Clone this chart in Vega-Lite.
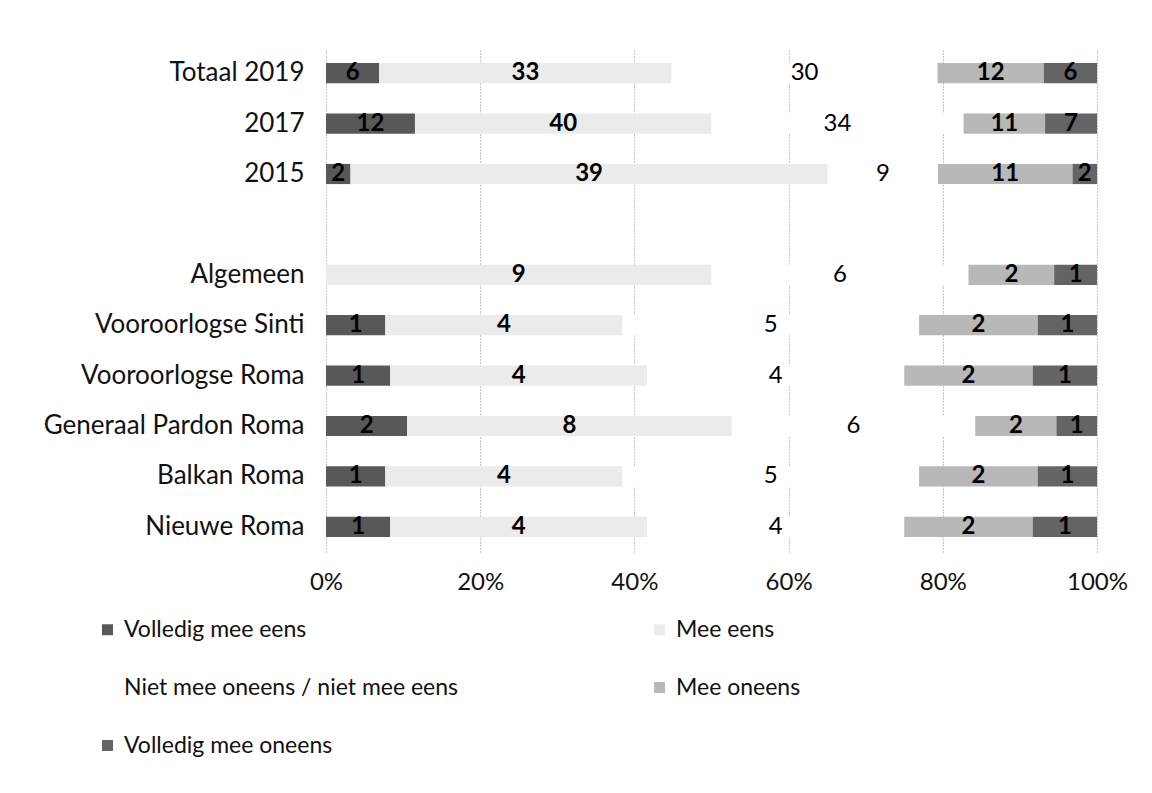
{
  "$schema": "https://vega.github.io/schema/vega-lite/v6.json",
  "width": 771,
  "height": 504,
  "autosize": {"type": "none"},
  "padding": {"left": 326, "top": 48, "right": 55, "bottom": 241},
  "background": "white",
  "config": {
    "view": {"stroke": null},
    "font": "Lato",
    "axis": {"labelFont": "Lato", "labelFontSize": 24, "labelColor": "#111"},
    "legend": {"labelFont": "Lato", "labelFontSize": 23, "labelColor": "#111"}
  },
  "data": {
    "values": [
      {"groep": "Totaal 2019", "antwoord": "Volledig mee eens", "k": 1, "n": 6},
      {"groep": "Totaal 2019", "antwoord": "Mee eens", "k": 2, "n": 33},
      {"groep": "Totaal 2019", "antwoord": "Niet mee oneens / niet mee eens", "k": 3, "n": 30},
      {"groep": "Totaal 2019", "antwoord": "Mee oneens", "k": 4, "n": 12},
      {"groep": "Totaal 2019", "antwoord": "Volledig mee oneens", "k": 5, "n": 6},
      {"groep": "2017", "antwoord": "Volledig mee eens", "k": 1, "n": 12},
      {"groep": "2017", "antwoord": "Mee eens", "k": 2, "n": 40},
      {"groep": "2017", "antwoord": "Niet mee oneens / niet mee eens", "k": 3, "n": 34},
      {"groep": "2017", "antwoord": "Mee oneens", "k": 4, "n": 11},
      {"groep": "2017", "antwoord": "Volledig mee oneens", "k": 5, "n": 7},
      {"groep": "2015", "antwoord": "Volledig mee eens", "k": 1, "n": 2},
      {"groep": "2015", "antwoord": "Mee eens", "k": 2, "n": 39},
      {"groep": "2015", "antwoord": "Niet mee oneens / niet mee eens", "k": 3, "n": 9},
      {"groep": "2015", "antwoord": "Mee oneens", "k": 4, "n": 11},
      {"groep": "2015", "antwoord": "Volledig mee oneens", "k": 5, "n": 2},
      {"groep": "Algemeen", "antwoord": "Mee eens", "k": 2, "n": 9},
      {"groep": "Algemeen", "antwoord": "Niet mee oneens / niet mee eens", "k": 3, "n": 6},
      {"groep": "Algemeen", "antwoord": "Mee oneens", "k": 4, "n": 2},
      {"groep": "Algemeen", "antwoord": "Volledig mee oneens", "k": 5, "n": 1},
      {"groep": "Vooroorlogse Sinti", "antwoord": "Volledig mee eens", "k": 1, "n": 1},
      {"groep": "Vooroorlogse Sinti", "antwoord": "Mee eens", "k": 2, "n": 4},
      {"groep": "Vooroorlogse Sinti", "antwoord": "Niet mee oneens / niet mee eens", "k": 3, "n": 5},
      {"groep": "Vooroorlogse Sinti", "antwoord": "Mee oneens", "k": 4, "n": 2},
      {"groep": "Vooroorlogse Sinti", "antwoord": "Volledig mee oneens", "k": 5, "n": 1},
      {"groep": "Vooroorlogse Roma", "antwoord": "Volledig mee eens", "k": 1, "n": 1},
      {"groep": "Vooroorlogse Roma", "antwoord": "Mee eens", "k": 2, "n": 4},
      {"groep": "Vooroorlogse Roma", "antwoord": "Niet mee oneens / niet mee eens", "k": 3, "n": 4},
      {"groep": "Vooroorlogse Roma", "antwoord": "Mee oneens", "k": 4, "n": 2},
      {"groep": "Vooroorlogse Roma", "antwoord": "Volledig mee oneens", "k": 5, "n": 1},
      {"groep": "Generaal Pardon Roma", "antwoord": "Volledig mee eens", "k": 1, "n": 2},
      {"groep": "Generaal Pardon Roma", "antwoord": "Mee eens", "k": 2, "n": 8},
      {"groep": "Generaal Pardon Roma", "antwoord": "Niet mee oneens / niet mee eens", "k": 3, "n": 6},
      {"groep": "Generaal Pardon Roma", "antwoord": "Mee oneens", "k": 4, "n": 2},
      {"groep": "Generaal Pardon Roma", "antwoord": "Volledig mee oneens", "k": 5, "n": 1},
      {"groep": "Balkan Roma", "antwoord": "Volledig mee eens", "k": 1, "n": 1},
      {"groep": "Balkan Roma", "antwoord": "Mee eens", "k": 2, "n": 4},
      {"groep": "Balkan Roma", "antwoord": "Niet mee oneens / niet mee eens", "k": 3, "n": 5},
      {"groep": "Balkan Roma", "antwoord": "Mee oneens", "k": 4, "n": 2},
      {"groep": "Balkan Roma", "antwoord": "Volledig mee oneens", "k": 5, "n": 1},
      {"groep": "Nieuwe Roma", "antwoord": "Volledig mee eens", "k": 1, "n": 1},
      {"groep": "Nieuwe Roma", "antwoord": "Mee eens", "k": 2, "n": 4},
      {"groep": "Nieuwe Roma", "antwoord": "Niet mee oneens / niet mee eens", "k": 3, "n": 4},
      {"groep": "Nieuwe Roma", "antwoord": "Mee oneens", "k": 4, "n": 2},
      {"groep": "Nieuwe Roma", "antwoord": "Volledig mee oneens", "k": 5, "n": 1}
    ]
  },
  "encoding": {
    "y": {
      "field": "groep",
      "type": "nominal",
      "title": null,
      "scale": {
        "domain": ["Totaal 2019", "2017", "2015", " ", "Algemeen", "Vooroorlogse Sinti", "Vooroorlogse Roma", "Generaal Pardon Roma", "Balkan Roma", "Nieuwe Roma"],
        "paddingInner": 0.6,
        "paddingOuter": 0.3
      },
      "axis": {"domain": false, "ticks": false, "labelPadding": 22, "grid": false, "labelLimit": 400, "labelFontSize": 26}
    },
    "x": {
      "field": "n",
      "type": "quantitative",
      "stack": "normalize",
      "title": null,
      "scale": {"domain": [0, 1]},
      "axis": {
        "format": ".0%",
        "values": [0, 0.2, 0.4, 0.6, 0.8, 1],
        "domain": false,
        "ticks": false,
        "labelPadding": 18,
        "labelFlush": false,
        "grid": true,
        "gridColor": "#888",
        "gridDash": [1, 2],
        "gridWidth": 1
      }
    },
    "order": {"field": "k", "type": "quantitative"}
  },
  "layer": [
    {
      "mark": {"type": "bar"},
      "encoding": {
        "color": {
          "field": "antwoord",
          "type": "nominal",
          "scale": {
            "domain": ["Volledig mee eens", "Mee eens", "Niet mee oneens / niet mee eens", "Mee oneens", "Volledig mee oneens"],
            "range": ["#585858", "#ebebeb", "#ffffff", "#b8b8b8", "#646464"]
          },
          "legend": {
            "title": null,
            "orient": "none",
            "direction": "horizontal",
            "legendX": -230,
            "legendY": 570,
            "columns": 2,
            "columnPadding": 189,
            "rowPadding": 34,
            "symbolType": "square",
            "symbolSize": 120,
            "symbolStrokeWidth": 0,
            "labelOffset": 5,
            "labelLimit": 500
          }
        }
      }
    },
    {
      "mark": {
        "type": "text",
        "fontSize": 24,
        "font": "Lato",
        "fontWeight": {"expr": "datum.k === 3 ? 'normal' : 'bold'"},
        "color": "#000"
      },
      "encoding": {
        "x": {"field": "n", "type": "quantitative", "stack": "normalize", "bandPosition": 0.5},
        "text": {"field": "n", "type": "quantitative"}
      }
    }
  ]
}
